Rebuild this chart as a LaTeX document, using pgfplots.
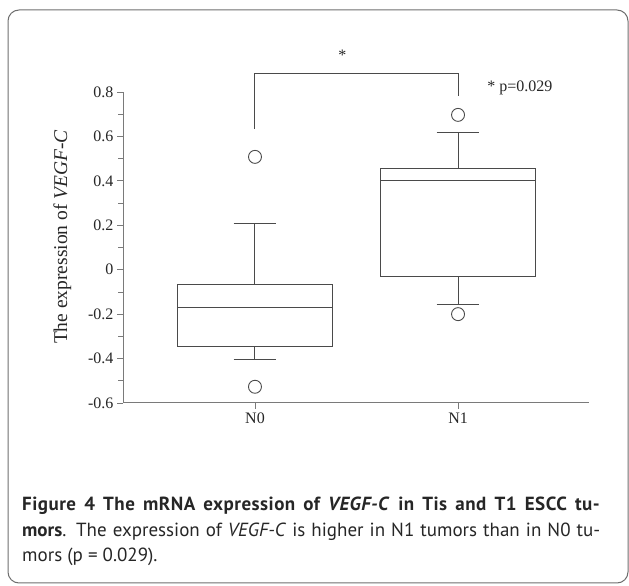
\documentclass[border=0pt]{standalone}
\usepackage{fontspec}
\setmainfont{Liberation Serif}
\newfontfamily\capfont{PT Sans}
\usepackage{pgfplots}
\pgfplotsset{compat=1.18}
\definecolor{boxline}{HTML}{4A4A4A}
\definecolor{axisgray}{HTML}{7A7A7A}
\definecolor{framegray}{HTML}{6E6E6E}

\begin{document}
\begin{tikzpicture}
\path[use as bounding box] (0pt,0pt) rectangle (629pt,586pt);
\draw[framegray, line width=1pt, rounded corners=11pt] (8pt,3pt) rectangle (628pt,576pt);
\begin{axis}[
  at={(123pt,183pt)}, anchor=south west,
  scale only axis, width=466pt, height=311pt,
  xmin=0.35, xmax=2.645, ymin=-0.6, ymax=0.8,
  axis lines=left, axis line style={-, axisgray, line width=1pt},
  clip=false,
  xtick={1,2}, xticklabels={N0,N1},
  ytick={-0.6,-0.4,-0.2,0,0.2,0.4,0.6,0.8},
  yticklabels={-0.6,-0.4,-0.2,0,0.2,0.4,0.6,0.8},
  minor ytick={-0.5,-0.3,-0.1,0.1,0.3,0.5,0.7},
  tick align=outside, major tick length=6pt, minor tick length=5pt,
  tick style={axisgray, line width=0.8pt},
  tick label style={font=\fontsize{16}{18}\selectfont, text=black!85},
  ylabel={The expression of \textit{VEGF-C}},
  ylabel style={font=\fontsize{19.5}{22}\selectfont, text=black!85, at={(ticklabel cs:0.534,10pt)}},
  every axis plot/.append style={boxline, line width=1pt},
]
% N0: box (Q1, Q3), median, whiskers, outliers
\addplot[no marks] coordinates {(0.618,-0.344) (1.382,-0.344) (1.382,-0.066) (0.618,-0.066) (0.618,-0.344)};
\addplot[no marks] coordinates {(0.618,-0.168) (1.382,-0.168)};
\addplot[no marks] coordinates {(1,-0.066) (1,0.209)};
\addplot[no marks] coordinates {(0.895,0.209) (1.105,0.209)};
\addplot[no marks] coordinates {(1,-0.344) (1,-0.402)};
\addplot[no marks] coordinates {(0.895,-0.402) (1.105,-0.402)};
\addplot[only marks, mark=o, mark size=6.5pt, mark options={line width=0.9pt}] coordinates {(1,0.508) (1,-0.527)};
% N1
\addplot[no marks] coordinates {(1.618,-0.031) (2.382,-0.031) (2.382,0.457) (1.618,0.457) (1.618,-0.031)};
\addplot[no marks] coordinates {(1.618,0.401) (2.382,0.401)};
\addplot[no marks] coordinates {(2,0.457) (2,0.619)};
\addplot[no marks] coordinates {(1.895,0.619) (2.105,0.619)};
\addplot[no marks] coordinates {(2,-0.031) (2,-0.155)};
\addplot[no marks] coordinates {(1.895,-0.155) (2.105,-0.155)};
\addplot[only marks, mark=o, mark size=6.5pt, mark options={line width=0.9pt}] coordinates {(2,0.697) (2,-0.200)};
% significance bracket
\addplot[no marks] coordinates {(1,0.634) (1,0.885) (2,0.885) (2,0.784)};
\node[anchor=base, text=black!85] at (axis cs:1.43,0.940) {\fontsize{16}{18}\selectfont *};
\node[anchor=base west, text=black!85, inner sep=0pt] at (axis cs:2.143,0.800) {\fontsize{16}{18}\selectfont * p=0.029};
\end{axis}
\node[anchor=base west, inner sep=0pt, text=black!85] at (22pt,75pt) {\capfont\fontsize{19}{25}\selectfont\makebox[578pt][s]{\addfontfeatures{LetterSpace=2.5}\textbf{Figure 4 The mRNA expression of \textit{VEGF-C} in Tis and T1 ESCC tu-}}};
\node[anchor=base west, inner sep=0pt, text=black!85] at (22pt,49pt) {\capfont\fontsize{19}{25}\selectfont\makebox[578pt][s]{\textbf{mors}. The expression of \textit{VEGF-C} is higher in N1 tumors than in N0 tu-}};
\node[anchor=base west, inner sep=0pt, text=black!85] at (22pt,24pt) {\capfont\fontsize{19}{25}\selectfont mors (p = 0.029).};
\end{tikzpicture}
\end{document}
